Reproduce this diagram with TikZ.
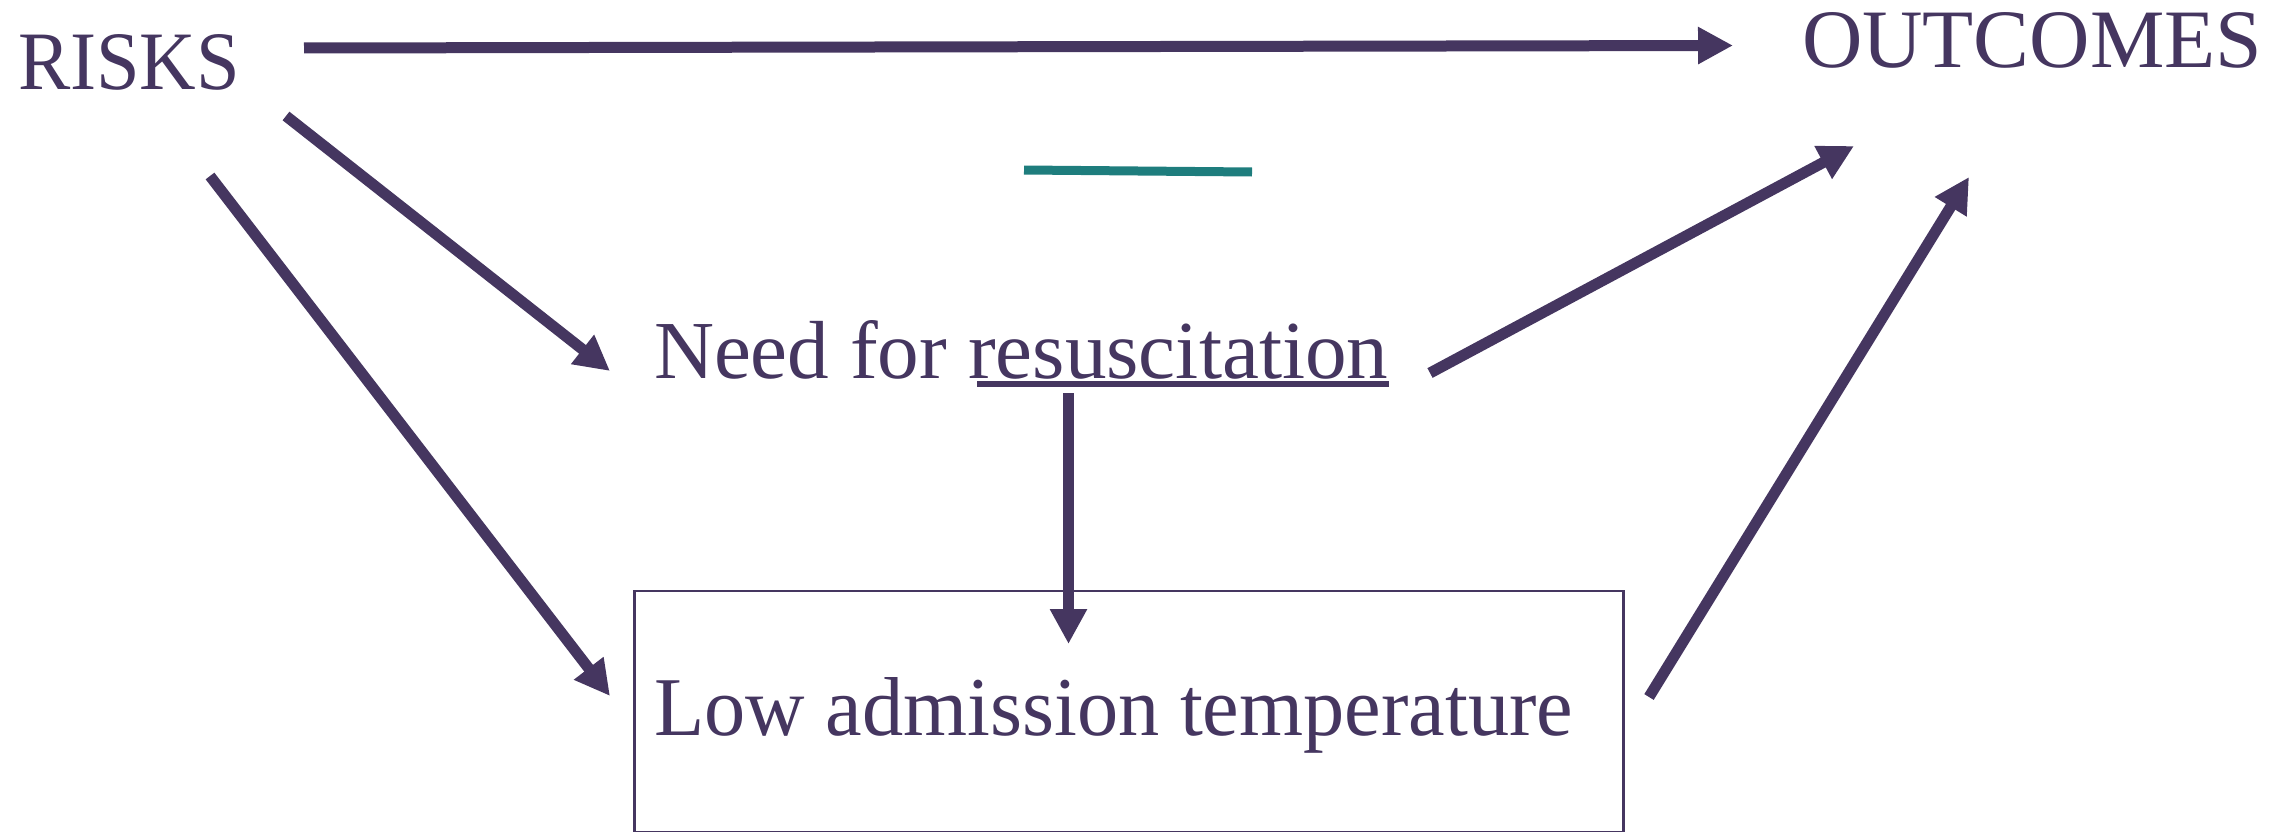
\documentclass[tikz,border=0pt]{standalone}
\usepackage{fontspec}
\setmainfont{Liberation Serif}
\usetikzlibrary{arrows.meta}
\definecolor{dagpurple}{HTML}{453660}
\definecolor{dagteal}{HTML}{1E7D7D}
\tikzset{
  label text/.style={inner sep=0pt, outer sep=0pt, anchor=base west, text=dagpurple},
  causal/.style={draw=dagpurple, line width=11pt,
    -{Triangle[length=35pt,width=35pt]}},
  framebox/.style={draw=dagpurple, line width=2.5pt, inner sep=0pt,
    anchor=north west, minimum width=989pt, minimum height=241pt},
}
\begin{document}
\begin{tikzpicture}[x=1pt,y=-1pt]
\useasboundingbox (0,0) rectangle (2293,832);
% nodes
\node[label text] (risks) at (18,90) {\resizebox{222pt}{55pt}{RISKS}};
\node[label text] (outcomes) at (1802,68) {\resizebox{460pt}{55pt}{OUTCOMES}};
\node[label text] (need) at (654,378) {\resizebox{734pt}{58pt}{Need for resuscitation}};
\node[framebox] (lowbox) at (633,589.5) {};
\node[label text] (low) at (654,735) {\resizebox{919pt}{58pt}{Low admission temperature}};
% underline of "resuscitation"
\draw[dagpurple, line width=6pt] (977,384) -- (1389,384);
% teal bar
\draw[dagteal, line width=9pt] (1024,170) -- (1252,172);
% connector end points
\coordinate (rO) at (304,48);
\coordinate (oR) at (1733,45.5);
\coordinate (rN) at (286,116);
\coordinate (nR) at (610,371);
\coordinate (rL) at (210,176);
\coordinate (lR) at (610,696);
\coordinate (nO) at (1430,373);
\coordinate (oN) at (1854,146);
\coordinate (lO) at (1649,697);
\coordinate (oL) at (1969,177);
\coordinate (nL) at (1068.5,393);
\coordinate (lN) at (1068.5,644);
% connectors
\draw[causal] (rO) -- (oR);
\draw[causal] (rN) -- (nR);
\draw[causal] (rL) -- (lR);
\draw[causal] (nO) -- (oN);
\draw[causal] (lO) -- (oL);
\draw[causal] (nL) -- (lN);
\end{tikzpicture}
\end{document}
